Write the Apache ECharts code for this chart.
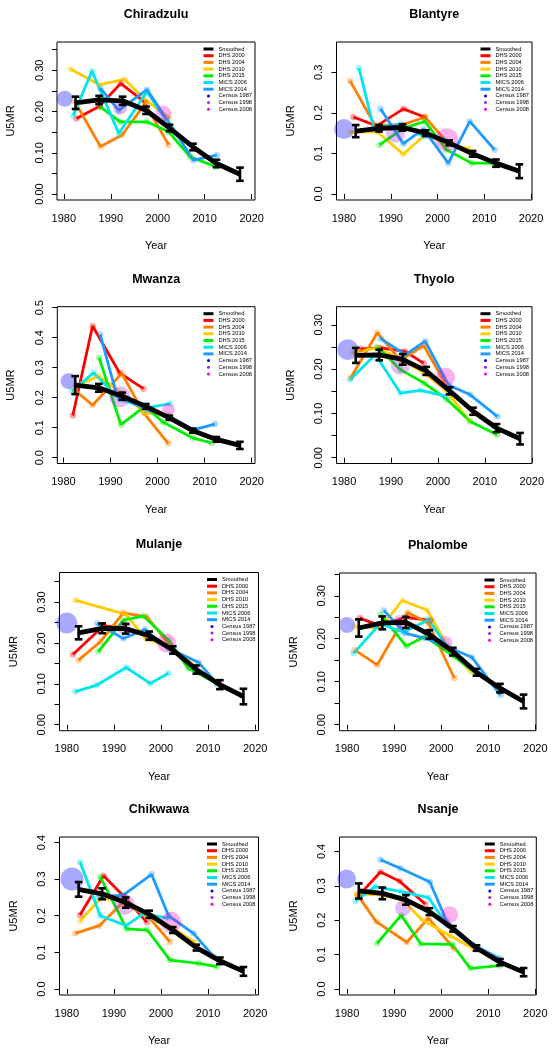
<!DOCTYPE html>
<html><head><meta charset="utf-8">
<script src="https://cdn.jsdelivr.net/npm/echarts@6/dist/echarts.min.js"></script>
<style>html,body{margin:0;padding:0;background:#fff}#c{width:554px;height:1050px}</style>
</head><body><div id="c"></div>
<script>
// ---------- DATA ----------
const districts = ['Chiradzulu','Blantyre','Mwanza','Thyolo','Mulanje','Phalombe','Chikwawa','Nsanje'];
const xTicks = [1980, 1990, 2000, 2010, 2020];
const yTicks = [
  [0,0.05,0.10,0.15,0.20,0.25,0.30,0.35],
  [0,0.1,0.2,0.3],
  [0,0.1,0.2,0.3,0.4,0.5],
  [0,0.05,0.10,0.15,0.20,0.25,0.30],
  [0,0.05,0.10,0.15,0.20,0.25,0.30,0.35],
  [0,0.05,0.10,0.15,0.20,0.25,0.30,0.35],
  [0,0.1,0.2,0.3,0.4],
  [0,0.1,0.2,0.3,0.4]
];
const yTickLabels = [
  [0,0.10,0.20,0.30],
  [0,0.1,0.2,0.3],
  [0,0.1,0.2,0.3,0.4,0.5],
  [0,0.10,0.20,0.30],
  [0,0.10,0.20,0.30],
  [0,0.10,0.20,0.30],
  [0,0.1,0.2,0.3,0.4],
  [0,0.1,0.2,0.3,0.4]
];
const yDecimals = [2,1,1,2,2,2,1,1];

const smoothYears = [1982.5,1987.5,1992.5,1997.5,2002.5,2007.5,2012.5,2017.5];
const smoothed = [
  [0.221,0.228,0.226,0.203,0.160,0.114,0.074,0.048],
  [0.155,0.162,0.164,0.150,0.126,0.099,0.076,0.056],
  [0.242,0.233,0.205,0.171,0.133,0.090,0.061,0.041],
  [0.231,0.232,0.222,0.196,0.151,0.105,0.067,0.043],
  [0.225,0.236,0.235,0.218,0.183,0.135,0.098,0.069],
  [0.225,0.237,0.238,0.210,0.170,0.122,0.085,0.054],
  [0.272,0.260,0.236,0.204,0.161,0.113,0.077,0.048],
  [0.285,0.278,0.259,0.225,0.175,0.119,0.078,0.049]
];
const smoothLow = [
  [0.206,0.218,0.216,0.194,0.152,0.106,0.065,0.032],
  [0.140,0.154,0.156,0.143,0.120,0.092,0.067,0.039],
  [0.212,0.220,0.193,0.163,0.126,0.083,0.053,0.029],
  [0.214,0.220,0.210,0.187,0.143,0.097,0.058,0.030],
  [0.209,0.224,0.223,0.208,0.174,0.125,0.087,0.050],
  [0.205,0.222,0.225,0.200,0.161,0.114,0.075,0.038],
  [0.252,0.245,0.222,0.194,0.153,0.105,0.068,0.036],
  [0.263,0.261,0.245,0.215,0.167,0.111,0.069,0.037]
];
const smoothHigh = [
  [0.236,0.238,0.236,0.212,0.168,0.122,0.083,0.064],
  [0.170,0.170,0.172,0.157,0.132,0.106,0.085,0.073],
  [0.272,0.246,0.217,0.179,0.140,0.097,0.069,0.053],
  [0.248,0.244,0.234,0.205,0.159,0.113,0.076,0.056],
  [0.241,0.248,0.247,0.228,0.192,0.145,0.109,0.088],
  [0.245,0.252,0.251,0.220,0.179,0.130,0.095,0.070],
  [0.292,0.275,0.250,0.214,0.169,0.121,0.086,0.060],
  [0.307,0.295,0.273,0.235,0.183,0.127,0.087,0.061]
];

const dhs2000 = [
  [[1982.7,0.183],[1987.6,0.213],[1992.1,0.268],[1997.3,0.222]],
  [[1982.0,0.190],[1987.0,0.168],[1992.7,0.210],[1997.2,0.190]],
  [[1982.0,0.141],[1986.2,0.439],[1991.9,0.283],[1997.0,0.230]],
  [[1983.5,0.246],[1987.8,0.248],[1993.0,0.240],[1997.0,0.213]],
  [[1981.3,0.172],[1987.8,0.242],[1992.0,0.238],[1997.0,0.219]],
  [[1982.7,0.248],[1987.1,0.230],[1992.4,0.250],[1997.7,0.243]],
  [[1982.8,0.202],[1987.8,0.309],[1992.2,0.252],[1997.0,0.182]],
  [[1982.5,0.272],[1987.1,0.340],[1991.2,0.313],[1996.6,0.247]]
];
const dhs2004 = [
  [[1982.3,0.225],[1987.8,0.115],[1992.4,0.143],[1997.3,0.219],[2002.3,0.119]],
  [[1981.3,0.279],[1986.7,0.168],[1992.7,0.171],[1997.3,0.190],[2002.2,0.125]],
  [[1982.5,0.224],[1986.2,0.175],[1992.4,0.281],[1997.0,0.150],[2002.3,0.047]],
  [[1981.4,0.180],[1987.1,0.282],[1992.0,0.220],[1997.0,0.253],[2001.5,0.170]],
  [[1982.5,0.158],[1987.1,0.203],[1992.0,0.274],[1997.0,0.264],[2001.9,0.195]],
  [[1981.6,0.174],[1986.4,0.139],[1992.9,0.261],[1997.3,0.236],[2002.8,0.108]],
  [[1981.8,0.152],[1986.9,0.173],[1991.7,0.234],[1997.0,0.202],[2001.9,0.129]],
  [[1982.1,0.276],[1986.2,0.196],[1992.7,0.136],[1997.3,0.206],[2002.7,0.117]]
];
const dhs2010 = [
  [[1981.4,0.303],[1987.6,0.265],[1992.9,0.278],[1997.7,0.225],[2002.4,0.185]],
  [[1981.4,0.152],[1987.0,0.154],[1992.7,0.098],[1997.3,0.146],[2001.9,0.124],[2006.9,0.111]],
  [[1982.5,0.238],[1987.4,0.272],[1992.4,0.216],[1997.3,0.149],[2002.0,0.144]],
  [[1981.8,0.237],[1987.1,0.248],[1992.2,0.222],[1997.0,0.191],[2001.6,0.154],[2006.5,0.086]],
  [[1981.8,0.305],[1992.5,0.270],[1996.8,0.210],[2002.0,0.190],[2007.0,0.145]],
  [[1981.8,0.228],[1987.1,0.225],[1991.7,0.289],[1997.0,0.267],[2001.6,0.178],[2006.2,0.124]],
  [[1982.8,0.185],[1987.1,0.247],[1992.2,0.243],[1997.0,0.197],[2001.9,0.170],[2007.3,0.127]],
  [[1982.1,0.276],[1987.1,0.274],[1991.9,0.259],[1995.9,0.201],[2001.9,0.155],[2006.9,0.117]]
];
const dhs2015 = [
  [[1987.8,0.211],[1992.0,0.175],[1997.7,0.175],[2002.3,0.151],[2006.9,0.090],[2012.4,0.066]],
  [[1987.6,0.121],[1992.7,0.162],[1997.3,0.179],[2001.9,0.109],[2007.3,0.076],[2011.9,0.076]],
  [[1987.6,0.333],[1992.2,0.110],[1997.3,0.171],[2001.2,0.118],[2007.6,0.065],[2011.5,0.049]],
  [[1987.1,0.250],[1992.0,0.199],[1997.0,0.169],[2002.0,0.131],[2006.9,0.082],[2012.6,0.052]],
  [[1986.7,0.179],[1992.0,0.256],[1996.3,0.266],[2001.6,0.207],[2005.8,0.138],[2011.9,0.101]],
  [[1987.1,0.256],[1992.6,0.183],[1996.6,0.205],[2002.7,0.159],[2006.9,0.124],[2012.4,0.085]],
  [[1987.1,0.306],[1992.7,0.164],[1997.1,0.161],[2001.9,0.079],[2008.0,0.070],[2011.9,0.061]],
  [[1986.4,0.133],[1991.5,0.214],[1995.7,0.131],[2002.3,0.130],[2006.2,0.060],[2012.4,0.068]]
];
const mics2006 = [
  [[1982.0,0.190],[1986.0,0.298],[1991.7,0.147],[1997.7,0.248],[2001.7,0.180]],
  [[1983.2,0.311],[1986.4,0.162],[1992.1,0.173],[1997.0,0.142],[2001.6,0.134]],
  [[1981.8,0.222],[1986.4,0.283],[1992.0,0.194],[1997.7,0.166],[2002.7,0.180]],
  [[1981.3,0.176],[1986.7,0.233],[1992.0,0.146],[1996.3,0.152],[2001.6,0.139]],
  [[1981.8,0.081],[1986.4,0.097],[1992.6,0.140],[1997.7,0.101],[2001.6,0.126]],
  [[1981.4,0.166],[1987.0,0.235],[1992.0,0.215],[1997.3,0.244],[2001.2,0.184]],
  [[1982.8,0.347],[1987.1,0.200],[1992.6,0.173],[1996.3,0.206],[2001.6,0.193]],
  [[1981.8,0.256],[1986.0,0.298],[1991.5,0.283],[1997.3,0.266],[2001.2,0.186]]
];
const mics2014 = [
  [[1987.8,0.256],[1991.7,0.203],[1997.7,0.253],[2002.0,0.180],[2007.6,0.082],[2012.6,0.094]],
  [[1987.8,0.210],[1992.7,0.124],[1997.0,0.160],[2002.3,0.076],[2006.9,0.179],[2012.2,0.109]],
  [[1987.8,0.411],[1991.3,0.210],[1997.7,0.160],[2002.3,0.140],[2007.6,0.093],[2012.2,0.112]],
  [[1987.8,0.269],[1993.1,0.233],[1997.3,0.263],[2002.3,0.164],[2006.9,0.142],[2012.7,0.093]],
  [[1986.4,0.248],[1992.0,0.211],[1996.6,0.233],[2001.6,0.187],[2008.0,0.152],[2011.9,0.101]],
  [[1987.8,0.266],[1992.4,0.213],[1996.6,0.201],[2001.2,0.182],[2006.5,0.157],[2012.6,0.069]],
  [[1986.7,0.252],[1992.0,0.256],[1998.0,0.313],[2001.6,0.200],[2006.9,0.152],[2011.2,0.088]],
  [[1987.1,0.376],[1991.3,0.351],[1997.6,0.311],[2001.2,0.196],[2006.9,0.128],[2012.4,0.089]]
];

const census1987 = [[1980.2,0.231],[1980.0,0.160],[1981.1,0.255],[1980.8,0.244],[1980.0,0.249],[1980.0,0.232],[1981.1,0.300],[1979.9,0.320]];
const census1998 = [[1992.0,0.209],[1991.0,0.150],[1992.0,0.203],[1992.0,0.209],[1992.2,0.237],[1991.2,0.240],[1992.2,0.231],[1991.9,0.235]];
const census2008 = [[2001.2,0.195],[2002.0,0.134],[2002.3,0.160],[2001.6,0.182],[2001.2,0.200],[2000.9,0.190],[2002.1,0.182],[2001.8,0.216]];
const census1987Size = [16,20,16,21,21,16,23,19];
const census1998Size = [14,19,21,19,14,13,21,16];
const census2008Size = [16,23,13,19,19,14,21,17];

// ---------- LAYOUT / STYLE ----------
const W = 554;
const boxes = [ // left, top, right, bottom (px)
  [57, 42, 255, 200],
  [336.5, 42, 532, 200],
  [57.3, 306.7, 255, 463.5],
  [336.5, 306.7, 532, 463.5],
  [59.5, 572.5, 258.5, 730.7],
  [339.5, 573, 536, 730.7],
  [59.5, 837, 258.5, 995],
  [339.5, 837, 536.3, 995]
];
const xRange = [[1978.55,2020.7],[1978.4,2020.2],[1978.7,2020.7],[1978.4,2020.05],[1978.45,2020.7],[1978.4,2020.15],[1978.45,2020.7],[1978.4,2020.2]];
const yRange = [[-0.0145,0.3685],[-0.015,0.375],[-0.0194,0.5034],[-0.013,0.341],[-0.0147,0.3726],[-0.014,0.353],[-0.0164,0.415],[-0.0175,0.442]];

const FONT = "'Liberation Sans', Arial, Helvetica, sans-serif";
const surveys = [
  {name:'DHS 2000', color:'#FF0000', data:dhs2000},
  {name:'DHS 2004', color:'#FF8000', data:dhs2004},
  {name:'DHS 2010', color:'#FFCC00', data:dhs2010},
  {name:'DHS 2015', color:'#00EE00', data:dhs2015},
  {name:'MICS 2006', color:'#00E5EE', data:mics2006},
  {name:'MICS 2014', color:'#1E9BFF', data:mics2014}
];
const censuses = [
  {name:'Census 1987', solid:'#0000FF', fill:'rgba(0,0,255,0.42)', data:census1987, size:census1987Size},
  {name:'Census 1998', solid:'#A020F0', fill:'rgba(160,32,240,0.38)', data:census1998, size:census1998Size},
  {name:'Census 2008', solid:'#FF00CC', fill:'rgba(245,0,200,0.38)', data:census2008, size:census2008Size}
];

const option = {animation:false, backgroundColor:'#fff', grid:[], xAxis:[], yAxis:[], title:[], legend:[], series:[]};

districts.forEach((d, i) => {
  const [l, t, r, b] = boxes[i];
  option.grid.push({left:l, top:t, width:r-l, height:b-t, show:true, borderColor:'#000', borderWidth:1, backgroundColor:'transparent', containLabel:false});
  option.title.push({text:d, left:(l+r)/2, top:t-34, textAlign:'center', padding:0,
    textStyle:{fontFamily:FONT, fontSize:12.5, fontWeight:'bold', color:'#000'}});
  option.xAxis.push({type:'value', gridIndex:i, min:xRange[i][0], max:xRange[i][1],
    name:'Year', nameLocation:'middle', nameGap:40.5, nameTextStyle:{fontFamily:FONT, fontSize:11, color:'#000'},
    axisLine:{show:false}, splitLine:{show:false},
    axisTick:{show:true, inside:false, length:5, customValues:xTicks, lineStyle:{color:'#000', width:1}},
    axisLabel:{customValues:xTicks, margin:13, fontFamily:FONT, fontSize:11, color:'#000', formatter:v=>String(Math.round(v))}});
  const dec = yDecimals[i];
  option.yAxis.push({type:'value', gridIndex:i, min:yRange[i][0], max:yRange[i][1],
    name:'U5MR', nameLocation:'middle', nameGap:40.5, nameTextStyle:{fontFamily:FONT, fontSize:11, color:'#000'},
    axisLine:{show:false}, splitLine:{show:false},
    axisTick:{show:true, inside:false, length:5, customValues:yTicks[i], lineStyle:{color:'#000', width:1}},
    axisLabel:{customValues:yTickLabels[i], rotate:90, margin:12, fontFamily:FONT, fontSize:11, color:'#000', formatter:v=>v.toFixed(dec)}});

  // survey lines
  surveys.forEach(s => {
    option.series.push({type:'line', name:s.name, xAxisIndex:i, yAxisIndex:i, data:s.data[i],
      symbol:'circle', symbolSize:6.5, showSymbol:true, showAllSymbol:true,
      itemStyle:{color:s.color, opacity:0.35}, lineStyle:{color:s.color, width:2.8},
      emphasis:{disabled:true}, z:2});
  });
  // census circles
  censuses.forEach(c => {
    option.series.push({type:'scatter', name:c.name, xAxisIndex:i, yAxisIndex:i,
      data:[{value:c.data[i], symbolSize:c.size[i]}], symbol:'circle',
      itemStyle:{color:c.fill}, emphasis:{disabled:true}, z:3});
  });
  // smoothed
  option.series.push({type:'line', name:'Smoothed', xAxisIndex:i, yAxisIndex:i,
    data:smoothYears.map((x,k)=>[x, smoothed[i][k]]), symbol:'none',
    itemStyle:{color:'#000'}, lineStyle:{color:'#000', width:4.8}, emphasis:{disabled:true}, z:4});
  option.series.push({type:'custom', name:'Smoothed bars', xAxisIndex:i, yAxisIndex:i,
    data:smoothYears.map((x,k)=>[x, smoothLow[i][k], smoothHigh[i][k]]),
    encode:{x:0, y:[1,2]}, z:5,
    renderItem:(params, api) => {
      const x = api.value(0);
      const p1 = api.coord([x, api.value(1)]);
      const p2 = api.coord([x, api.value(2)]);
      const cap = 3.8, st = {stroke:'#000', lineWidth:2.6};
      return {type:'group', children:[
        {type:'line', shape:{x1:p1[0], y1:p1[1], x2:p2[0], y2:p2[1]}, style:st},
        {type:'line', shape:{x1:p1[0]-cap, y1:p1[1], x2:p1[0]+cap, y2:p1[1]}, style:st},
        {type:'line', shape:{x1:p2[0]-cap, y1:p2[1], x2:p2[0]+cap, y2:p2[1]}, style:st}
      ]};
    }});

  // legend
  const legData = [{name:'Smoothed', icon:'rect', itemStyle:{color:'#000', opacity:1}}]
    .concat(surveys.map(s => ({name:s.name, icon:'rect', itemStyle:{color:s.color, opacity:1}})))
    .concat(censuses.map(c => ({name:c.name, icon:'circle', itemStyle:{color:c.solid, opacity:1}})));
  option.legend.push({orient:'vertical', align:'left', right:W - r + 3, top:t + 4, padding:0,
    itemWidth:10, itemHeight:3, itemGap:0.7, selectedMode:false, symbolKeepAspect:true,
    textStyle:{fontFamily:FONT, fontSize:5.7, lineHeight:6, color:'#000'}, data:legData});
});

const chart = echarts.init(document.getElementById('c'), null, {renderer:'canvas'});
chart.setOption(option);
</script>
</body></html>
